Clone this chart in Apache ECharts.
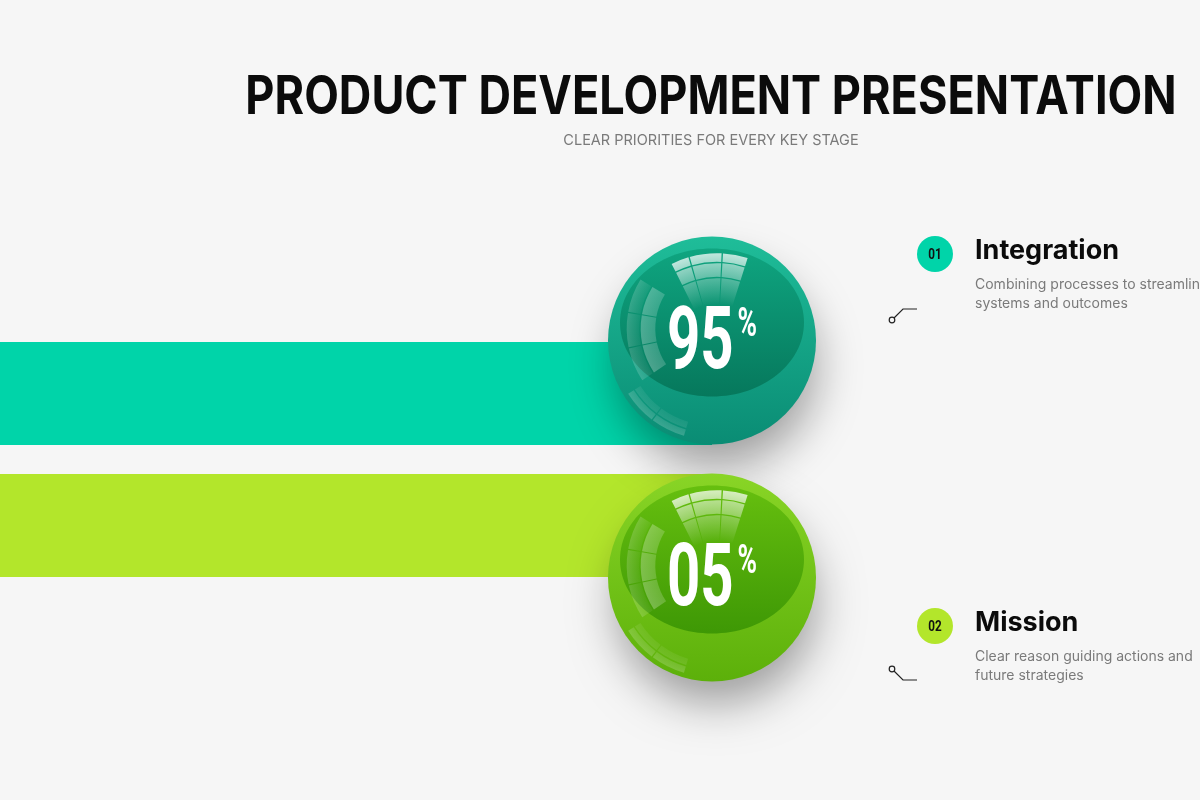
<!DOCTYPE html>
<html>
<head>
<meta charset="utf-8">
<script src="https://cdn.jsdelivr.net/npm/echarts@6/dist/echarts.min.js"></script>
<style>
  html, body { margin: 0; padding: 0; background: #f6f6f6; }
  #chart { width: 1200px; height: 800px; }
</style>
</head>
<body>
<div id="chart"></div>
<script>
// data
var stages = ['Integration', 'Mission'];
var badgeNumbers = ['01', '02'];
var shares = [95, 5];
var shareLabels = ['95', '05'];
var trackLength = [100, 100]; // both tracks run to the sphere in the reference
var descriptions = [
  ['Combining processes to streamline', 'systems and outcomes'],
  ['Clear reason guiding actions and', 'future strategies']
];

// styles
var barColors = ['#00d4a9', '#b3e62b'];
var sphereTheme = [
  { rimTop: '#1fbd99', rimBottom: '#0a8c74', lensTop: '#0fa580', lensBottom: '#06785c', offsetY: -53 },
  { rimTop: '#89d526', rimBottom: '#5cb00a', lensTop: '#66bf0f', lensBottom: '#3e9805', offsetY: 52 }
];
var deg = Math.PI / 180;

var chart = echarts.init(document.getElementById('chart'));

function lin(c0, c1) {
  return new echarts.graphic.LinearGradient(0, 0, 0, 1, [
    { offset: 0, color: c0 }, { offset: 1, color: c1 }
  ]);
}

// glassy window reflection made of small sector cells, alphas = [outer, inner] per ring
function windowCells(cx, cy, radii, angles, alphas) {
  var out = [];
  for (var i = 0; i < radii.length - 1; i++) {
    for (var j = 0; j < angles.length - 1; j++) {
      var a = alphas[i];
      out.push({
        type: 'sector',
        shape: {
          cx: cx, cy: cy,
          r0: radii[i] + 0.7, r: radii[i + 1] - 0.7,
          startAngle: angles[j] * deg + 0.007,
          endAngle: angles[j + 1] * deg - 0.007,
          clockwise: true
        },
        style: {
          fill: new echarts.graphic.RadialGradient(cx, cy, radii[i + 1], [
            { offset: radii[i] / radii[i + 1], color: 'rgba(255,255,255,' + a[1] + ')' },
            { offset: 1, color: 'rgba(255,255,255,' + a[0] + ')' }
          ], true)
        }
      });
    }
  }
  return out;
}

function renderSphere(params, api) {
  var idx = params.dataIndex;
  var t = sphereTheme[idx];
  var pt = api.coord([api.value(0), api.value(1)]);
  var cx = pt[0], cy = pt[1] + t.offsetY;
  var R = 104;
  var kids = [];
  // drop shadow
  kids.push({
    type: 'circle', shape: { cx: cx, cy: cy, r: R - 4 },
    style: { fill: t.rimBottom, shadowBlur: 45, shadowOffsetY: 26, shadowOffsetX: 4, shadowColor: 'rgba(0,0,0,0.36)' }
  });
  // body
  kids.push({ type: 'circle', shape: { cx: cx, cy: cy, r: R }, style: { fill: lin(t.rimTop, t.rimBottom) } });
  // inner lens
  kids.push({ type: 'ellipse', shape: { cx: cx, cy: cy - 18, rx: 92, ry: 74 }, style: { fill: lin(t.lensTop, t.lensBottom) } });
  // reflections
  kids = kids.concat(windowCells(cx + 5, cy + 14, [50, 77, 92, 102], [-117, -106, -87, -72], [[0.3, 0.0], [0.55, 0.35], [0.75, 0.6]]));
  kids = kids.concat(windowCells(cx + 8, cy - 12, [64, 80, 94], [146, 168, 190, 212], [[0.28, 0.18], [0.18, 0.04]]));
  kids = kids.concat(windowCells(cx, cy, [84, 92, 100], [106, 127, 148], [[0.1, 0.06], [0.2, 0.12]]));
  // value label
  kids.push({
    type: 'text', x: cx, y: cy + 5, scaleX: 0.66,
    style: {
      text: '{n|' + shareLabels[idx] + '}{p|%}',
      align: 'center', verticalAlign: 'middle',
      rich: {
        n: { fontFamily: 'Roboto', fontWeight: 'bold', fontSize: 88, lineHeight: 88, fill: '#ffffff' },
        p: { fontFamily: 'Roboto', fontWeight: 'bold', fontSize: 40, lineHeight: 88, fill: '#ffffff', verticalAlign: 'top', padding: [4, 0, 0, 6] }
      }
    }
  });
  return { type: 'group', children: kids };
}

var graphics = [
  {
    type: 'text', x: 711, y: 98, scaleX: 0.85,
    style: { text: 'PRODUCT DEVELOPMENT PRESENTATION', fill: '#0b0b0b', font: '700 53px Inter', align: 'center', verticalAlign: 'middle' }
  },
  {
    type: 'text', x: 711, y: 141,
    style: { text: 'CLEAR PRIORITIES FOR EVERY KEY STAGE', fill: '#7a7a7a', font: '400 14.5px Inter', align: 'center', verticalAlign: 'middle' }
  }
];

var blockY = [254, 626];
var connectorY = [320, 669];
var connectorDir = [-1, 1];
stages.forEach(function (name, i) {
  var y = blockY[i];
  graphics.push({ type: 'circle', shape: { cx: 935, cy: y, r: 18 }, style: { fill: barColors[i] } });
  graphics.push({
    type: 'text', x: 935, y: y + 1, scaleX: 0.78,
    style: { text: badgeNumbers[i], fill: '#111', font: 'bold 15px Roboto', align: 'center', verticalAlign: 'middle' }
  });
  graphics.push({
    type: 'text', x: 975, y: y - 3,
    style: { text: name, fill: '#0b0b0b', font: '700 27px Inter', align: 'left', verticalAlign: 'middle' }
  });
  descriptions[i].forEach(function (line, k) {
    graphics.push({
      type: 'text', x: 975, y: y + 31 + k * 19,
      style: { text: line, fill: '#7a7a7a', font: '400 14px Inter', align: 'left', verticalAlign: 'middle' }
    });
  });
  var cy = connectorY[i];
  var d = connectorDir[i];
  graphics.push({
    type: 'polyline',
    shape: { points: [[894, cy + d * 2], [903, cy + d * 11], [917, cy + d * 11]] },
    style: { stroke: '#222', lineWidth: 1.2, fill: null }
  });
  graphics.push({ type: 'circle', shape: { cx: 892, cy: cy, r: 2.8 }, style: { fill: '#f6f6f6', stroke: '#222', lineWidth: 1.2 } });
});

chart.setOption({
  backgroundColor: '#f6f6f6',
  animation: false,
  grid: { left: 0, right: 488, top: 327.5, bottom: 208.5 },
  xAxis: { type: 'value', min: 0, max: 100, show: false },
  yAxis: { type: 'category', data: stages, inverse: true, show: false },
  series: [
    {
      type: 'bar',
      barWidth: 103,
      data: trackLength.map(function (v, i) { return { value: v, itemStyle: { color: barColors[i] } }; }),
      z: 1
    },
    {
      type: 'custom',
      renderItem: renderSphere,
      data: shares.map(function (v, i) { return [100, i, v]; }),
      z: 3
    }
  ],
  graphic: graphics
});
</script>
</body>
</html>
